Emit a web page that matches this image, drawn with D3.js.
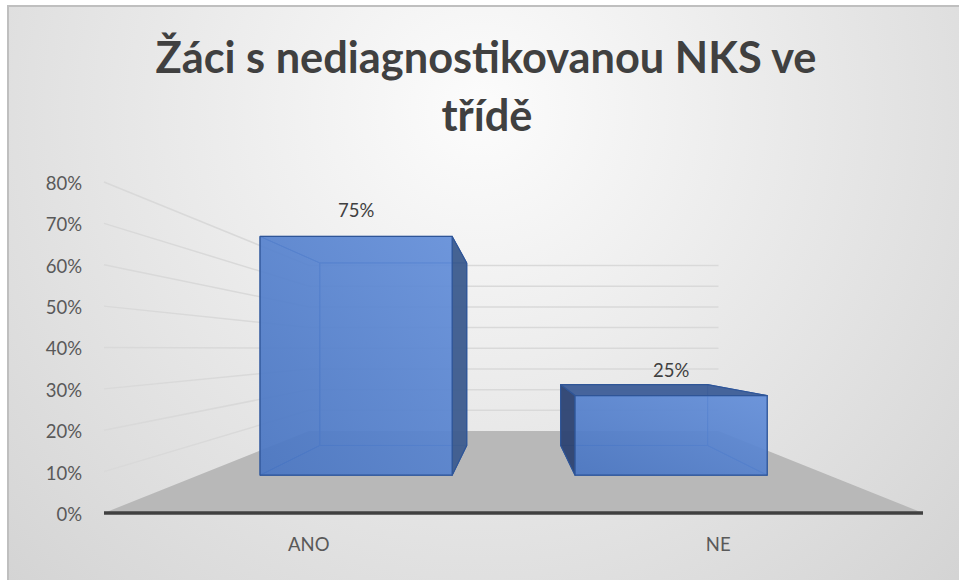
<!DOCTYPE html>
<html>
<head>
<meta charset="utf-8">
<script src="https://cdn.jsdelivr.net/npm/d3@7"></script>
<style>
  body { margin: 0; background: #fff; }
  svg { display: block; }
  text { font-family: Lato, "Open Sans", sans-serif; }
</style>
</head>
<body>
<svg id="chart" width="959" height="580"></svg>
<script>
// chart data
let categories = ["ANO", "NE"];
let values = [0.75, 0.25];
let valueLabels = ["75%", "25%"];
let yTicks = [0, 0.1, 0.2, 0.3, 0.4, 0.5, 0.6, 0.7, 0.8];
let titleLines = ["Žáci s nediagnostikovanou NKS ve", "třídě"];

let width = 959;
let height = 580;

// perspective: vanishing point, depth 0 = front, 1 = back wall
let vp = { x: 514, y: 349 };
let barDepth = [0.3, 0.7];

function proj(X, Y, z) {
  let s = 1 / (1 + z);
  return [vp.x + (X - vp.x) * s, vp.y + (Y - vp.y) * s];
}

let svg = d3.select("#chart");
let defs = svg.append("defs");

let bg = defs.append("radialGradient")
  .attr("id", "bg")
  .attr("gradientUnits", "userSpaceOnUse")
  .attr("cx", 480).attr("cy", 110).attr("r", 750);
bg.append("stop").attr("offset", "0%").attr("stop-color", "#fcfcfc");
bg.append("stop").attr("offset", "100%").attr("stop-color", "#cfcfcf");

let frontGrad = defs.append("linearGradient")
  .attr("id", "front")
  .attr("x1", 0).attr("y1", 1).attr("x2", 1).attr("y2", 0);
frontGrad.append("stop").attr("offset", "0%").attr("stop-color", "#4a76c2");
frontGrad.append("stop").attr("offset", "100%").attr("stop-color", "#6590da");

svg.append("rect")
  .attr("x", 8).attr("y", 6)
  .attr("width", width + 20).attr("height", height + 20)
  .attr("fill", "url(#bg)")
  .attr("stroke", "#bfbfbf")
  .attr("stroke-width", 2);

let x = d3.scaleBand()
  .domain(categories)
  .range([104, 923])
  .paddingInner(0.39)
  .paddingOuter(0.195);

let y = d3.scaleLinear()
  .domain([0, 0.8])
  .range([513, 182]);

let x0 = x.range()[0];
let x1 = x.range()[1];
let line = d3.line();

// floor
svg.append("path")
  .attr("d", line([proj(x0, y(0), 0), proj(x1, y(0), 0), proj(x1, y(0), 1), proj(x0, y(0), 1)]) + "Z")
  .attr("fill", "#b8b8b8");

// gridlines on side wall and back wall
let grid = svg.append("g")
  .attr("fill", "none")
  .attr("stroke", "#d9d9d9")
  .attr("stroke-width", 1.5);

grid.selectAll("path")
  .data(yTicks.filter(d => d > 0))
  .enter()
  .append("path")
  .attr("d", d => line([proj(x0, y(d), 0), proj(x0, y(d), 1), proj(x1, y(d), 1)]));

// y axis labels
let yAxis = svg.append("g")
  .attr("transform", "translate(" + x0 + ",0)")
  .call(d3.axisLeft(y).tickValues(yTicks).tickFormat(d3.format(".0%")).tickSize(0).tickPadding(22));
yAxis.select(".domain").remove();
yAxis.selectAll("text")
  .attr("font-size", 18.5)
  .attr("fill", "#595959")
  .attr("font-family", "Lato, sans-serif")
  .attr("dy", "0.4em");

// category axis line
svg.append("line")
  .attr("x1", x0).attr("x2", x1)
  .attr("y1", y(0)).attr("y2", y(0))
  .attr("stroke", "#404040")
  .attr("stroke-width", 3.5);

svg.append("g")
  .selectAll("text")
  .data(categories)
  .enter()
  .append("text")
  .attr("x", d => x(d) + x.bandwidth() / 2)
  .attr("y", 551)
  .attr("text-anchor", "middle")
  .attr("font-size", 18.5)
  .attr("fill", "#595959")
  .text(d => d);

// 3d bars
let bars = svg.append("g");

categories.forEach((c, i) => {
  let X1 = x(c);
  let X2 = x(c) + x.bandwidth();
  let Y0 = y(0);
  let Y1 = y(values[i]);
  let za = barDepth[0];
  let zb = barDepth[1];

  let faces = [
    { name: "back", pts: [[X1, Y1, zb], [X2, Y1, zb], [X2, Y0, zb], [X1, Y0, zb]], visible: false },
    { name: "bottom", pts: [[X1, Y0, za], [X2, Y0, za], [X2, Y0, zb], [X1, Y0, zb]], visible: Y0 < vp.y, fill: "#3d5d8f" },
    { name: "left", pts: [[X1, Y1, za], [X1, Y1, zb], [X1, Y0, zb], [X1, Y0, za]], visible: X1 > vp.x, fill: "#2e4572" },
    { name: "right", pts: [[X2, Y1, za], [X2, Y1, zb], [X2, Y0, zb], [X2, Y0, za]], visible: X2 < vp.x, fill: "#3e5d8e" },
    { name: "top", pts: [[X1, Y1, za], [X2, Y1, za], [X2, Y1, zb], [X1, Y1, zb]], visible: Y1 > vp.y, fill: "#3f5f98" },
    { name: "front", pts: [[X1, Y1, za], [X2, Y1, za], [X2, Y0, za], [X1, Y0, za]], visible: true, fill: "url(#front)" }
  ];

  let hidden = faces.filter(f => !f.visible);
  let shown = faces.filter(f => f.visible);

  hidden.forEach(f => {
    bars.append("path")
      .attr("d", line(f.pts.map(p => proj(p[0], p[1], p[2]))) + "Z")
      .attr("fill", "#4472c4")
      .attr("fill-opacity", 0.3)
      .attr("stroke", "#3a66b5")
      .attr("stroke-width", 1);
  });

  shown.forEach(f => {
    bars.append("path")
      .attr("d", line(f.pts.map(p => proj(p[0], p[1], p[2]))) + "Z")
      .attr("fill", f.fill)
      .attr("fill-opacity", f.name === "front" ? 0.9 : 0.95)
      .attr("stroke", "#2f5597")
      .attr("stroke-width", 1.2)
      .attr("stroke-linejoin", "round");
  });

  let top = proj((X1 + X2) / 2, Y1, za);
  bars.append("text")
    .attr("x", top[0])
    .attr("y", top[1] - 19)
    .attr("text-anchor", "middle")
    .attr("font-size", 18.5)
    .attr("fill", "#404040")
    .text(valueLabels[i]);
});

// title, fitted to the width of the original
let title = svg.append("g")
  .attr("font-weight", "bold")
  .attr("fill", "#404040")
  .attr("text-anchor", "middle");

let t1 = title.append("text")
  .attr("x", 486).attr("y", 73)
  .attr("font-size", 40)
  .text(titleLines[0]);
let w = t1.node().getComputedTextLength();
let fs = 40 * 661 / w;
t1.attr("font-size", fs);

title.append("text")
  .attr("x", 487).attr("y", 131)
  .attr("font-size", fs)
  .text(titleLines[1]);
</script>
</body>
</html>
